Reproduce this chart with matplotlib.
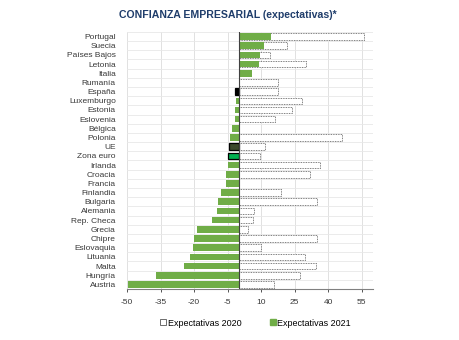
#!/usr/bin/python3

import numpy as np
import matplotlib
matplotlib.use("Agg")
import matplotlib.pyplot as plt
from matplotlib.patches import Patch

plt.rcParams['font.family'] = ['Liberation Sans', 'DejaVu Sans']
plt.rcParams['axes.unicode_minus'] = False

countries = ["Portugal", "Suecia", "Países Bajos", "Letonia", "Italia",
             "Rumanía", "España", "Luxemburgo", "Estonia", "Eslovenia",
             "Bélgica", "Polonia", "UE", "Zona euro", "Irlanda", "Croacia",
             "Francia", "Finlandia", "Bulgaria", "Alemania", "Rep. Checa",
             "Grecia", "Chipre", "Eslovaquia", "Lituania", "Malta",
             "Hungría", "Austria"]
exp_2020 = [56, 21.7, 13.9, 30.2, 0, 17.5, 17.5, 28.2, 23.6, 16.1,
            0, 45.9, 11.8, 9.4, 36.2, 31.8, 0, 18.8, 35.0, 7.0, 6.4,
            3.9, 35.1, 10.0, 29.6, 34.7, 27.3, 15.8]
exp_2021 = [14.2, 11.2, 9.4, 9.2, 5.7, 0, -1.5, -1.2, -1.7, -1.7,
            -3.0, -3.8, -4.2, -4.8, -4.8, -5.7, -5.8, -7.8, -9.3, -9.6,
            -12.0, -18.6, -20.2, -20.7, -21.7, -24.4, -36.8, -49.7]
xticks = [-50, -35, -20, -5, 10, 25, 40, 55]

GREEN = "#70ad47"
special = {"España": ("#000000", "#000000"),
           "UE": ("#3b4a2c", "#000000"),
           "Zona euro": ("#00b050", "#000000")}


def main():
    fig = plt.figure(figsize=(4.6, 3.4), dpi=100)
    ax = fig.add_axes([0.276, 0.15, 0.535, 0.756])

    y = np.arange(len(countries))
    ax.barh(y, exp_2020, height=0.72, color="white", edgecolor="#555555",
            linewidth=0.6, linestyle=(0, (1, 1)), zorder=2)

    colors = [special.get(c, (GREEN, GREEN))[0] for c in countries]
    edges = [special.get(c, (GREEN, GREEN))[1] for c in countries]
    widths = [0.9 if c in special else 0 for c in countries]
    ax.barh(y, exp_2021, height=0.72, color=colors, edgecolor=edges,
            linewidth=widths, zorder=3)

    ax.axvline(0, color="#404040", linewidth=0.8, zorder=4)

    ax.set_ylim(len(countries) - 0.5, -0.5)
    ax.set_xlim(-50, 60)
    ax.set_yticks(y)
    ax.set_yticklabels(countries)
    ax.set_yticks(np.arange(len(countries) + 1) - 0.5, minor=True)
    ax.set_xticks(xticks)
    ax.tick_params(axis="y", length=0, labelsize=6, colors="#383838",
                   pad=8, which="both")
    ax.tick_params(axis="x", length=2.5, labelsize=6, colors="#383838",
                   width=0.6, pad=5)

    ax.grid(axis="x", color="#dcdcdc", linewidth=0.6, zorder=0)
    ax.grid(axis="y", which="minor", color="#e8e8e8", linewidth=0.6,
            zorder=0)
    ax.set_axisbelow(True)
    for side in ["top", "right", "left"]:
        ax.spines[side].set_visible(False)
    ax.spines["bottom"].set_color("#808080")
    ax.spines["bottom"].set_linewidth(0.8)

    fig.text(0.495, 0.955, "CONFIANZA EMPRESARIAL (expectativas)*",
             ha="center", va="center", fontsize=7.6, fontweight="bold",
             color="#1f3d6b")

    handles = [Patch(facecolor="white", edgecolor="#555555", linewidth=0.6),
               Patch(facecolor=GREEN, edgecolor=GREEN)]
    fig.legend(handles, ["Expectativas 2020", "Expectativas 2021"],
               loc="center", bbox_to_anchor=(0.556, 0.05), ncol=2,
               frameon=False, fontsize=6.5, handlelength=0.6,
               handleheight=0.6, handletextpad=0.2, columnspacing=3.2)

    fig.savefig("out.png", dpi=100)


if __name__ == "__main__":
    main()
